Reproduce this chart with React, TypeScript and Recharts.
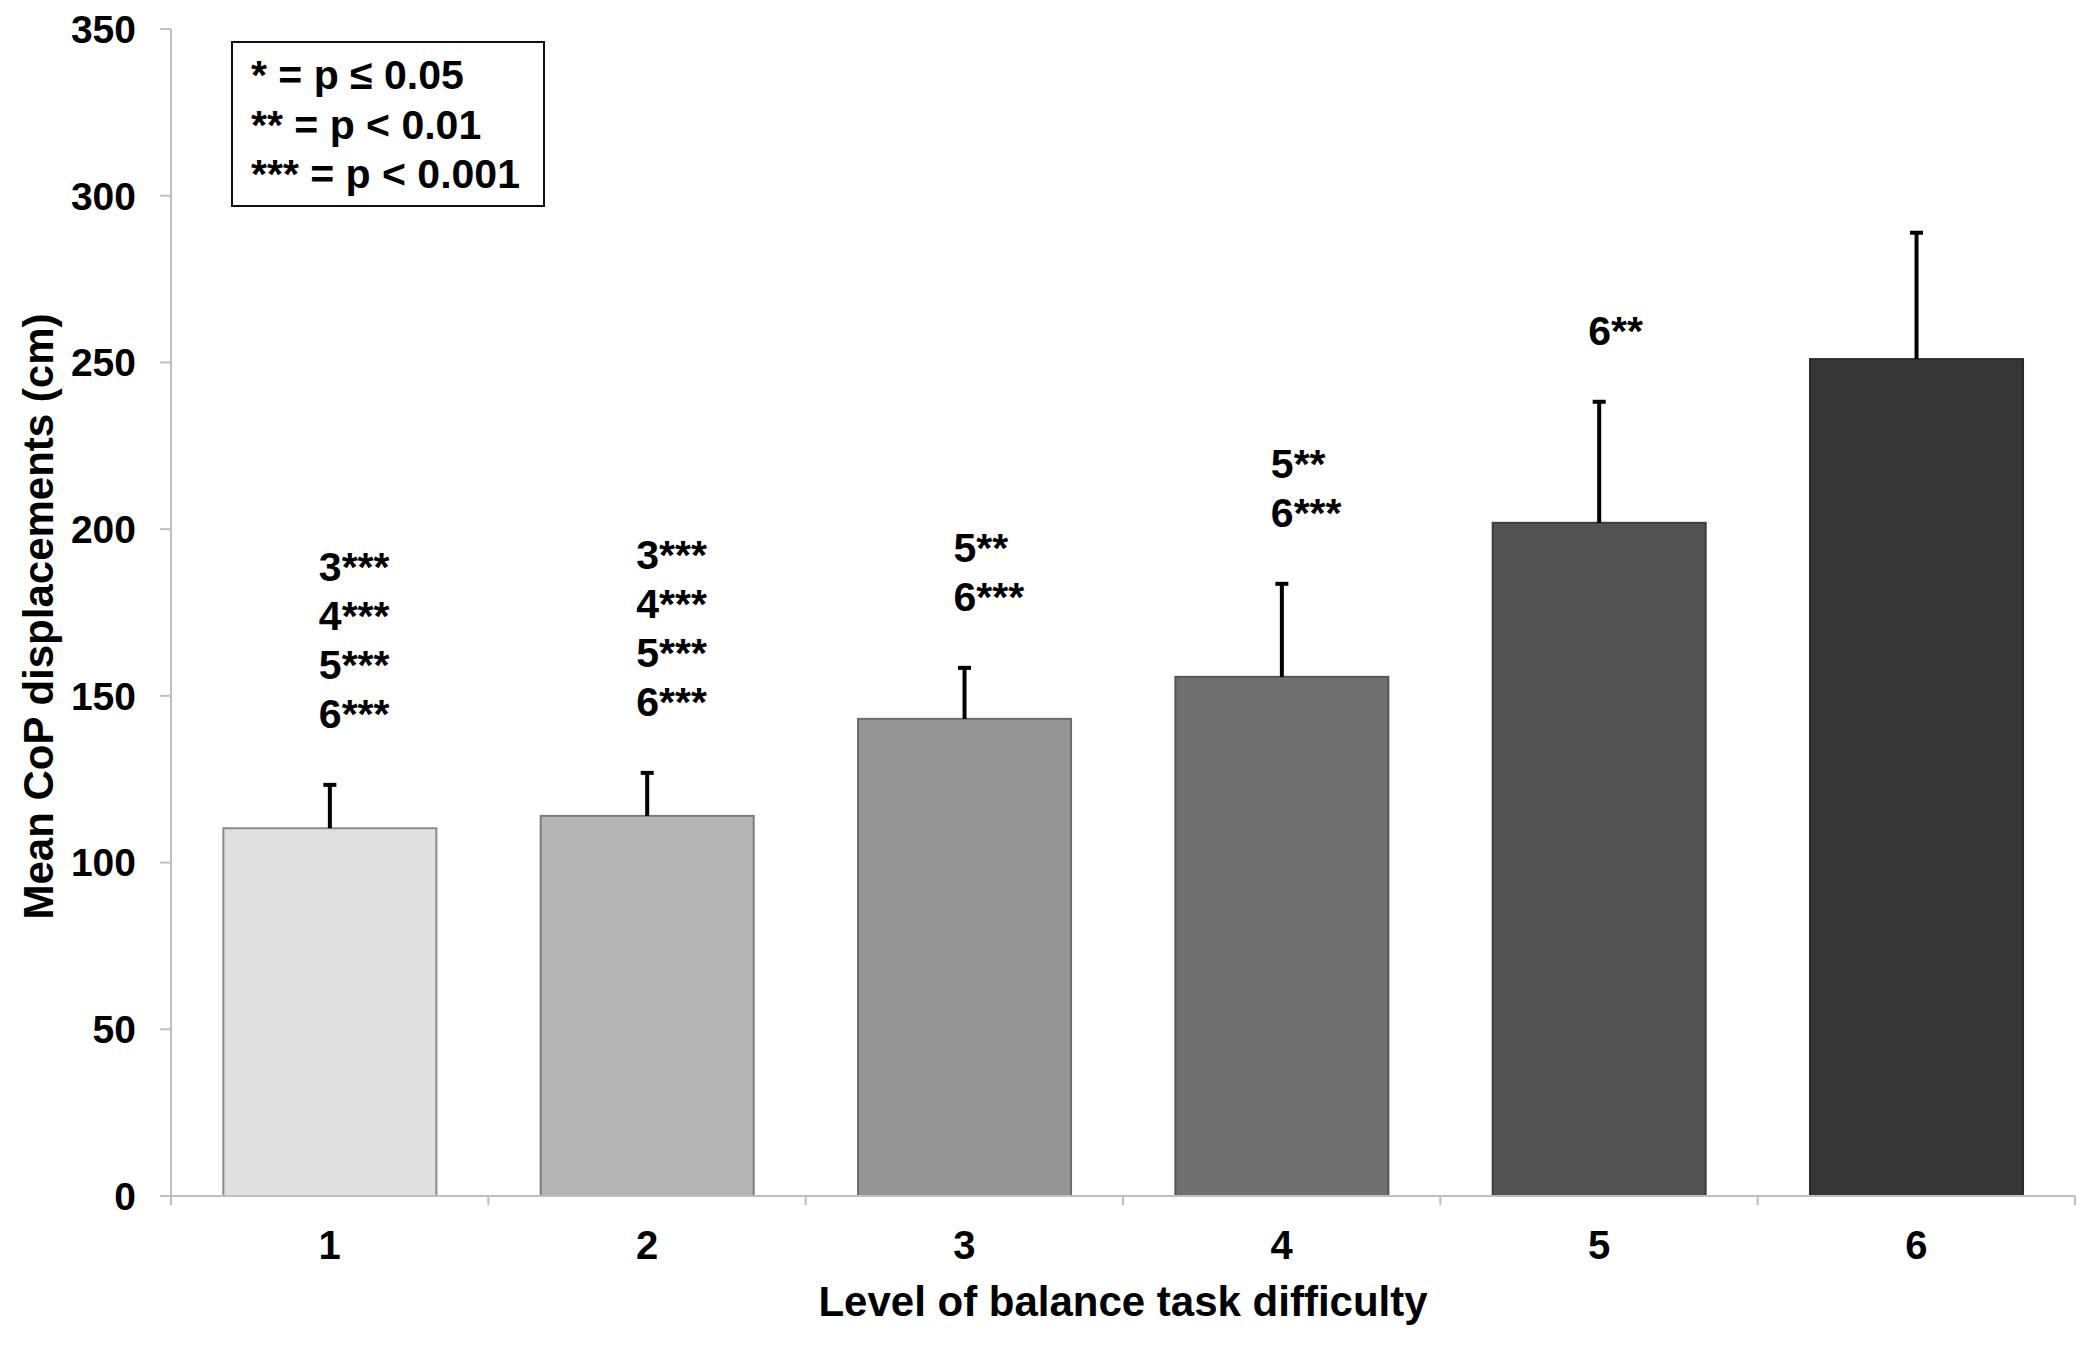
import { BarChart, Bar, XAxis, YAxis, Label } from 'recharts'

// mean CoP displacement per balance task level (cm), upper SD
const levels = ['1', '2', '3', '4', '5', '6']
const means = [110.3, 114.0, 143.1, 155.7, 201.9, 251.0]
const sdUpper = [13.3, 13.2, 15.6, 28.2, 36.6, 38.2]
const marks = [
  ['3***', '4***', '5***', '6***'],
  ['3***', '4***', '5***', '6***'],
  ['5**', '6***'],
  ['5**', '6***'],
  ['6**'],
  [],
]
const yTicks = [0, 50, 100, 150, 200, 250, 300, 350]
const legendLines = ['* = p \u2264 0.05', '** = p < 0.01', '*** = p < 0.001']

const rows = levels.map((level, i) => ({
  level,
  mean: means[i],
  sd: sdUpper[i],
  marks: marks[i],
}))

const W = 2085
const H = 1341
const PLOT_LEFT = 163
const PLOT_RIGHT = 18
const FONT = '"Liberation Sans", Arial, sans-serif'
const AXIS_GREY = '#bfbfbf'
const fills = ['#e0e0e0', '#b4b4b4', '#959595', '#707070', '#535353', '#363636']
const strokes = ['#8c8c8c', '#7c7c7c', '#6c6c6c', '#555555', '#3e3e3e', '#2a2a2a']

const band = (W - PLOT_LEFT - PLOT_RIGHT) / levels.length

const BarWithError = (props) => {
  const { x, y, width, height, index, payload } = props
  const perUnit = height / payload.mean
  const cx = x + width / 2
  const errTop = y - payload.sd * perUnit
  const lines = payload.marks
  return (
    <g>
      <rect x={x} y={y} width={width} height={height} fill={fills[index]} stroke={strokes[index]} strokeWidth={2} />
      <line x1={cx} y1={y} x2={cx} y2={errTop} stroke="#000" strokeWidth={4} />
      <line x1={cx - 6.5} y1={errTop + 1} x2={cx + 6.5} y2={errTop + 1} stroke="#000" strokeWidth={4} />
      {lines.map((t, k) => (
        <text
          key={k}
          x={cx - 11}
          y={errTop - 56 - (lines.length - 1 - k) * 49}
          fontFamily={FONT}
          fontWeight="bold"
          fontSize={41}
          fill="#000"
        >
          {t}
        </text>
      ))}
    </g>
  )
}

const LevelTick = (props) => {
  const { x, y, payload, index } = props
  return (
    <g>
      <line x1={x - band / 2} y1={y} x2={x - band / 2} y2={y + 9} stroke={AXIS_GREY} strokeWidth={2} />
      {index === levels.length - 1 && (
        <line x1={x + band / 2} y1={y} x2={x + band / 2} y2={y + 9} stroke={AXIS_GREY} strokeWidth={2} />
      )}
      <text x={x} y={y + 63} textAnchor="middle" fontFamily={FONT} fontWeight="bold" fontSize={40} fill="#000">
        {payload.value}
      </text>
    </g>
  )
}

export default function App() {
  return (
    <div style={{ position: 'relative', width: W, height: H }}>
      <BarChart
        width={W}
        height={H}
        data={rows}
        margin={{ top: 21, right: PLOT_RIGHT, left: 0, bottom: 73 }}
        barCategoryGap="16.5%"
      >
        <XAxis
          dataKey="level"
          height={80}
          interval={0}
          axisLine={{ stroke: AXIS_GREY, strokeWidth: 2 }}
          tickLine={false}
          tickSize={0}
          tickMargin={0}
          tick={LevelTick}
        >
          <Label
            content={({ viewBox }) => (
              <text
                x={viewBox.x + viewBox.width / 2}
                y={viewBox.y + 120}
                textAnchor="middle"
                fontFamily={FONT}
                fontWeight="bold"
                fontSize={42}
                fill="#000"
              >
                Level of balance task difficulty
              </text>
            )}
          />
        </XAxis>
        <YAxis
          width={PLOT_LEFT}
          domain={[0, 350]}
          ticks={yTicks}
          interval={0}
          axisLine={{ stroke: AXIS_GREY, strokeWidth: 2 }}
          tickLine={{ stroke: AXIS_GREY, strokeWidth: 2 }}
          tickSize={11}
          tickMargin={24}
          tick={{ fill: '#000', fontFamily: FONT, fontWeight: 'bold', fontSize: 39 }}
        >
          <Label
            content={({ viewBox }) => {
              const cy = viewBox.y + viewBox.height / 2 + 4
              return (
                <text
                  x={45}
                  y={cy}
                  transform={`rotate(-90 45 ${cy})`}
                  textAnchor="middle"
                  fontFamily={FONT}
                  fontWeight="bold"
                  fontSize={42}
                  fill="#000"
                >
                  Mean CoP displacements (cm)
                </text>
              )
            }}
          />
        </YAxis>
        <Bar dataKey="mean" shape={BarWithError} isAnimationActive={false} />
      </BarChart>
      <div
        style={{
          position: 'absolute',
          left: 223,
          top: 33,
          width: 314,
          height: 166,
          boxSizing: 'border-box',
          border: '2.5px solid #111',
          padding: '8px 0 0 18px',
          fontFamily: FONT,
          fontWeight: 'bold',
          fontSize: 41,
          lineHeight: '49.5px',
          color: '#000',
          background: '#fff',
        }}
      >
        {legendLines.map((t) => (
          <div key={t} style={{ whiteSpace: 'nowrap' }}>
            {t}
          </div>
        ))}
      </div>
    </div>
  )
}
